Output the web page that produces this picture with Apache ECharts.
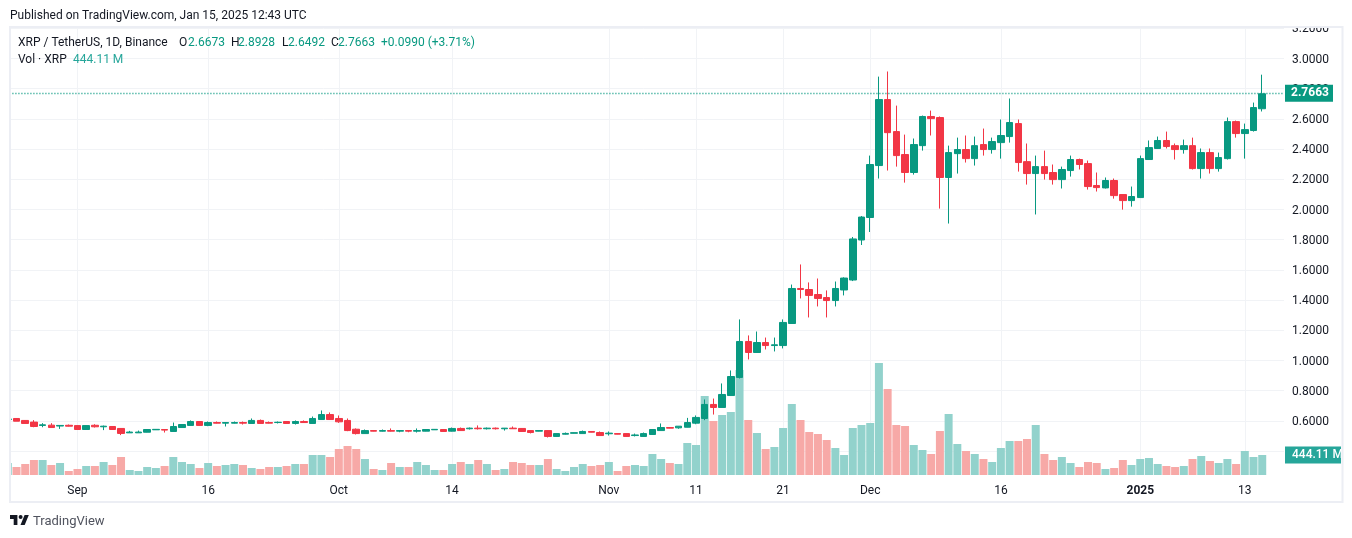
<!DOCTYPE html>
<html><head><meta charset="utf-8">
<style>html,body{margin:0;padding:0;background:#fff}#c{width:1352px;height:538px}</style>
<script src="https://cdn.jsdelivr.net/npm/echarts@6/dist/echarts.min.js"></script>
</head><body><div id="c"></div>
<script>
const firstDate = '2024-08-24';
const futureSlots = ['2025-01-16','2025-01-17'];
const tickLabels = {'2024-09-01':'Sep','2024-09-16':'16','2024-10-01':'Oct','2024-10-14':'14','2024-11-01':'Nov','2024-11-11':'11','2024-11-21':'21','2024-12-01':'Dec','2024-12-16':'16','2025-01-01':'2025','2025-01-13':'13'};
const priceTicks = [0.4,0.6,0.8,1.0,1.2,1.4,1.6,1.8,2.0,2.2,2.4,2.6,2.8,3.0,3.2];
const opens = [.610,.616,.603,.592,.570,.572,.566,.571,.569,.543,.571,.561,.563,.550,.521,.521,.525,.541,.543,.530,.556,.570,.596,.570,.589,.585,.585,.589,.583,.603,.589,.589,.596,.583,.596,.583,.609,.642,.616,.603,.545,.516,.536,.532,.536,.532,.536,.532,.532,.541,.543,.532,.550,.548,.552,.548,.552,.548,.552,.550,.536,.532,.536,.497,.512,.518,.516,.530,.523,.515,.516,.516,.503,.497,.510,.536,.556,.554,.558,.585,.616,.709,.689,.768,.888,1.126,1.053,1.119,1.099,1.099,1.245,1.477,1.470,1.437,1.417,1.397,1.467,1.533,1.798,1.947,2.291,2.728,2.516,2.364,2.245,2.423,2.616,2.609,2.212,2.370,2.397,2.337,2.430,2.397,2.443,2.483,2.569,2.317,2.238,2.284,2.245,2.198,2.258,2.331,2.304,2.159,2.143,2.192,2.099,2.059,2.079,2.331,2.404,2.457,2.423,2.397,2.423,2.271,2.377,2.271,2.337,2.582,2.503,2.523,2.6673];
const closes = [.612,.598,.583,.563,.574,.556,.570,.565,.543,.569,.561,.565,.543,.517,.526,.526,.543,.544,.539,.563,.576,.596,.570,.589,.585,.589,.589,.585,.603,.583,.585,.591,.583,.596,.589,.616,.642,.609,.594,.536,.516,.536,.532,.536,.532,.536,.532,.536,.543,.544,.530,.550,.536,.552,.548,.552,.548,.552,.548,.530,.523,.536,.497,.516,.517,.522,.530,.525,.503,.519,.512,.497,.507,.516,.543,.556,.552,.565,.589,.623,.709,.689,.775,.894,1.126,1.053,1.119,1.099,1.104,1.252,1.477,1.470,1.431,1.411,1.397,1.477,1.546,1.805,1.950,2.298,2.728,2.509,2.357,2.245,2.430,2.616,2.602,2.212,2.377,2.397,2.337,2.423,2.397,2.450,2.490,2.576,2.311,2.238,2.284,2.238,2.198,2.265,2.331,2.298,2.152,2.145,2.192,2.092,2.059,2.086,2.337,2.410,2.457,2.417,2.397,2.423,2.271,2.377,2.271,2.344,2.582,2.503,2.529,2.675,2.7663];
const lows = [.608,.598,.583,.558,.558,.555,.547,.563,.541,.543,.556,.539,.542,.506,.521,.520,.524,.540,.523,.530,.555,.569,.569,.565,.583,.563,.583,.576,.583,.583,.583,.583,.582,.576,.589,.583,.609,.609,.587,.532,.510,.514,.531,.530,.530,.525,.525,.523,.531,.540,.529,.530,.535,.543,.543,.543,.543,.536,.547,.529,.517,.531,.490,.496,.510,.517,.516,.524,.503,.503,.511,.496,.497,.497,.509,.536,.551,.548,.557,.578,.605,.642,.689,.766,.881,1.007,1.052,1.073,1.060,1.080,1.244,1.411,1.285,1.358,1.285,1.358,1.431,1.526,1.765,1.851,2.205,2.258,2.284,2.178,2.231,2.390,2.490,2.006,1.907,2.238,2.311,2.291,2.357,2.370,2.337,2.443,2.251,2.165,1.967,2.198,2.165,2.139,2.218,2.265,2.132,2.119,2.139,2.072,1.999,2.019,2.078,2.330,2.403,2.404,2.331,2.370,2.265,2.205,2.238,2.251,2.331,2.476,2.337,2.516,2.6492];
const highs = [.616,.618,.604,.605,.585,.585,.571,.576,.570,.570,.578,.569,.564,.551,.534,.536,.544,.545,.544,.589,.577,.603,.597,.596,.596,.590,.596,.596,.616,.609,.596,.596,.597,.603,.603,.629,.669,.656,.636,.616,.550,.543,.537,.543,.550,.537,.537,.550,.544,.545,.544,.556,.556,.556,.570,.556,.556,.553,.563,.551,.537,.537,.537,.517,.523,.523,.536,.531,.530,.530,.517,.517,.516,.523,.544,.583,.557,.566,.620,.636,.742,.748,.848,.934,1.272,1.166,1.192,1.152,1.152,1.272,1.503,1.636,1.517,1.543,1.464,1.523,1.551,1.818,1.957,2.357,2.880,2.914,2.688,2.496,2.470,2.622,2.655,2.616,2.423,2.476,2.490,2.483,2.536,2.476,2.596,2.735,2.596,2.437,2.357,2.390,2.298,2.284,2.357,2.337,2.324,2.245,2.212,2.205,2.099,2.152,2.357,2.457,2.483,2.516,2.437,2.463,2.476,2.404,2.404,2.377,2.609,2.589,2.569,2.708,2.8928];
const volumesM = [266,178,244,333,333,222,266,89,133,200,200,289,222,400,111,89,178,155,200,400,289,244,155,266,200,222,244,222,155,133,178,178,200,244,244,444,444,400,577,644,577,355,133,111,266,178,178,289,222,111,111,244,289,244,333,244,111,133,289,266,222,222,355,133,89,178,244,200,222,289,89,200,222,200,466,355,266,244,710,666,1754,1199,1332,1399,2331,1221,932,577,622,1043,1576,1221,955,910,777,599,444,1043,1110,1154,2486,1909,1110,1088,666,555,466,977,1354,688,533,466,355,289,599,755,755,799,1110,466,333,400,266,178,289,266,133,155,333,222,355,377,244,200,178,200,355,422,311,266,355,244,533,400,444.11];

const lastPrice = closes[closes.length-1];
const lastVolume = volumesM[volumesM.length-1];
const UP='#089981', DOWN='#f23645', VOL_UP='#92d2cc', VOL_DOWN='#f7a9a7', TXT='#131722', GRID='#f1f3f6';
const FONT='Roboto, sans-serif';

const dates=[];
{const d=new Date(firstDate+'T00:00:00Z');
 for(let i=0;i<opens.length;i++){dates.push(d.toISOString().slice(0,10));d.setUTCDate(d.getUTCDate()+1);}}
const categories=dates.concat(futureSlots);
const candleData=opens.map((o,i)=>[o,closes[i],lows[i],highs[i]]);
const volumeData=volumesM.map((v,i)=>({value:v,itemStyle:{color:closes[i]>=opens[i]?VOL_UP:VOL_DOWN}}));
const isTick=(i,v)=>tickLabels[v]!==undefined;

const txt=(x,y,text,fill,extra)=>({type:'text',z:110,silent:true,style:Object.assign({x,y,text,fill,font:'12px '+FONT,verticalAlign:'middle'},extra||{})});

const graphicEls=[
 {type:'rect',z:100,silent:true,shape:{x:0,y:0,width:1352,height:26},style:{fill:'#fff'}},
 {type:'rect',z:100,silent:true,shape:{x:0,y:0,width:9,height:538},style:{fill:'#fff'}},
 {type:'rect',z:101,silent:true,shape:{x:10,y:27,width:1332.5,height:475},style:{fill:'none',stroke:'#eceef4',lineWidth:2}},
 txt(10,16,'Published on TradingView.com, Jan 15, 2025 12:43 UTC',TXT),
 txt(18,43,'XRP / TetherUS, 1D, Binance',TXT),
 txt(179,43,'O',TXT),txt(188,43,'2.6673',UP),
 txt(231,43,'H',TXT),txt(238,43,'2.8928',UP),
 txt(282,43,'L',TXT),txt(288,43,'2.6492',UP),
 txt(331,43,'C',TXT),txt(338,43,'2.7663',UP),
 txt(381,43,'+0.0990 (+3.71%)',UP),
 txt(18,60,'Vol · XRP',TXT),
 txt(73,60,'444.11 M','#26a69a'),
 {type:'polygon',z:110,silent:true,shape:{points:[[10,515],[17.4,515],[17.4,525],[13.7,525],[13.7,518.9],[10,518.9]]},style:{fill:TXT}},
 {type:'polygon',z:110,silent:true,shape:{points:[[24.6,515],[28.8,515],[24.7,525],[20.5,525]]},style:{fill:TXT}},
 {type:'circle',z:110,silent:true,shape:{cx:20.6,cy:517,r:2},style:{fill:TXT}},
 txt(33,521.5,'TradingView','#50535e',{font:'13px '+FONT})
];

const chart=echarts.init(document.getElementById('c'),null,{renderer:'canvas'});
chart.setOption({
 animation:false,backgroundColor:'#fff',
 textStyle:{fontFamily:FONT},
 graphic:{elements:graphicEls},
 grid:[
  {left:3.43,right:68,top:28.3,height:422.8,containLabel:false},
  {left:3.43,right:68,top:28,height:447,containLabel:false}
 ],
 xAxis:[
  {type:'category',gridIndex:0,data:categories,boundaryGap:true,axisLine:{show:false},axisTick:{show:false},axisLabel:{show:false},splitLine:{show:false}},
  {type:'category',gridIndex:1,data:categories,boundaryGap:true,axisLine:{show:false},
   axisTick:{show:false,alignWithLabel:true,interval:isTick},
   axisLabel:{show:true,interval:isTick,hideOverlap:false,color:TXT,fontSize:12,fontFamily:FONT,margin:10,
     formatter:v=>{const t=tickLabels[v];return t==='2025'?'{b|2025}':(t||'');},
     rich:{b:{fontWeight:'bold',color:TXT,fontSize:12,fontFamily:FONT}}},
   splitLine:{show:true,interval:isTick,alignWithLabel:true,lineStyle:{color:GRID,width:1}}}
 ],
 yAxis:[
  {type:'value',gridIndex:0,position:'right',min:priceTicks[0],max:priceTicks[priceTicks.length-1],interval:0.2,
   axisLine:{show:false},axisTick:{show:false},
   axisLabel:{show:true,color:TXT,fontSize:12,fontFamily:FONT,margin:8,align:'left',showMinLabel:false,showMaxLabel:true,
     formatter:v=>'{a|'+v.toFixed(4)+'}',
     rich:{a:{color:TXT,fontSize:12,fontFamily:FONT,padding:[2,0,0,0]}}},
   splitLine:{show:true,lineStyle:{color:GRID,width:1}}},
  {type:'value',gridIndex:1,min:0,max:9923,axisLine:{show:false},axisTick:{show:false},axisLabel:{show:false},splitLine:{show:false}}
 ],
 series:[
  {type:'bar',name:'Vol',xAxisIndex:1,yAxisIndex:1,data:volumeData,barWidth:8,z:2,silent:true,
   markLine:{silent:true,symbol:'none',animation:false,lineStyle:{color:'transparent',width:0},
    label:{show:true,position:'end',distance:1,formatter:lastVolume.toFixed(2)+' M',color:'#fff',fontWeight:500,fontSize:12,fontFamily:FONT,backgroundColor:'#26a69a',padding:[3,4,2,7],width:45,height:12,lineHeight:12,align:'left'},
    data:[{yAxis:lastVolume}]}},
  {type:'candlestick',name:'XRP / TetherUS',xAxisIndex:0,yAxisIndex:0,data:candleData,barWidth:7,z:3,silent:true,
   itemStyle:{color:UP,color0:DOWN,borderColor:UP,borderColor0:DOWN,borderWidth:1},
   markLine:{silent:true,symbol:'none',animation:false,lineStyle:{color:UP,type:[1,2],width:1.3},
    label:{show:true,position:'end',distance:1,formatter:lastPrice.toFixed(4),color:'#fff',fontWeight:'bold',fontSize:12,fontFamily:FONT,backgroundColor:UP,padding:[3,6,2,6],width:36,height:12,lineHeight:12,align:'left'},
    data:[{yAxis:lastPrice}]}}
 ]
});
</script></body></html>
